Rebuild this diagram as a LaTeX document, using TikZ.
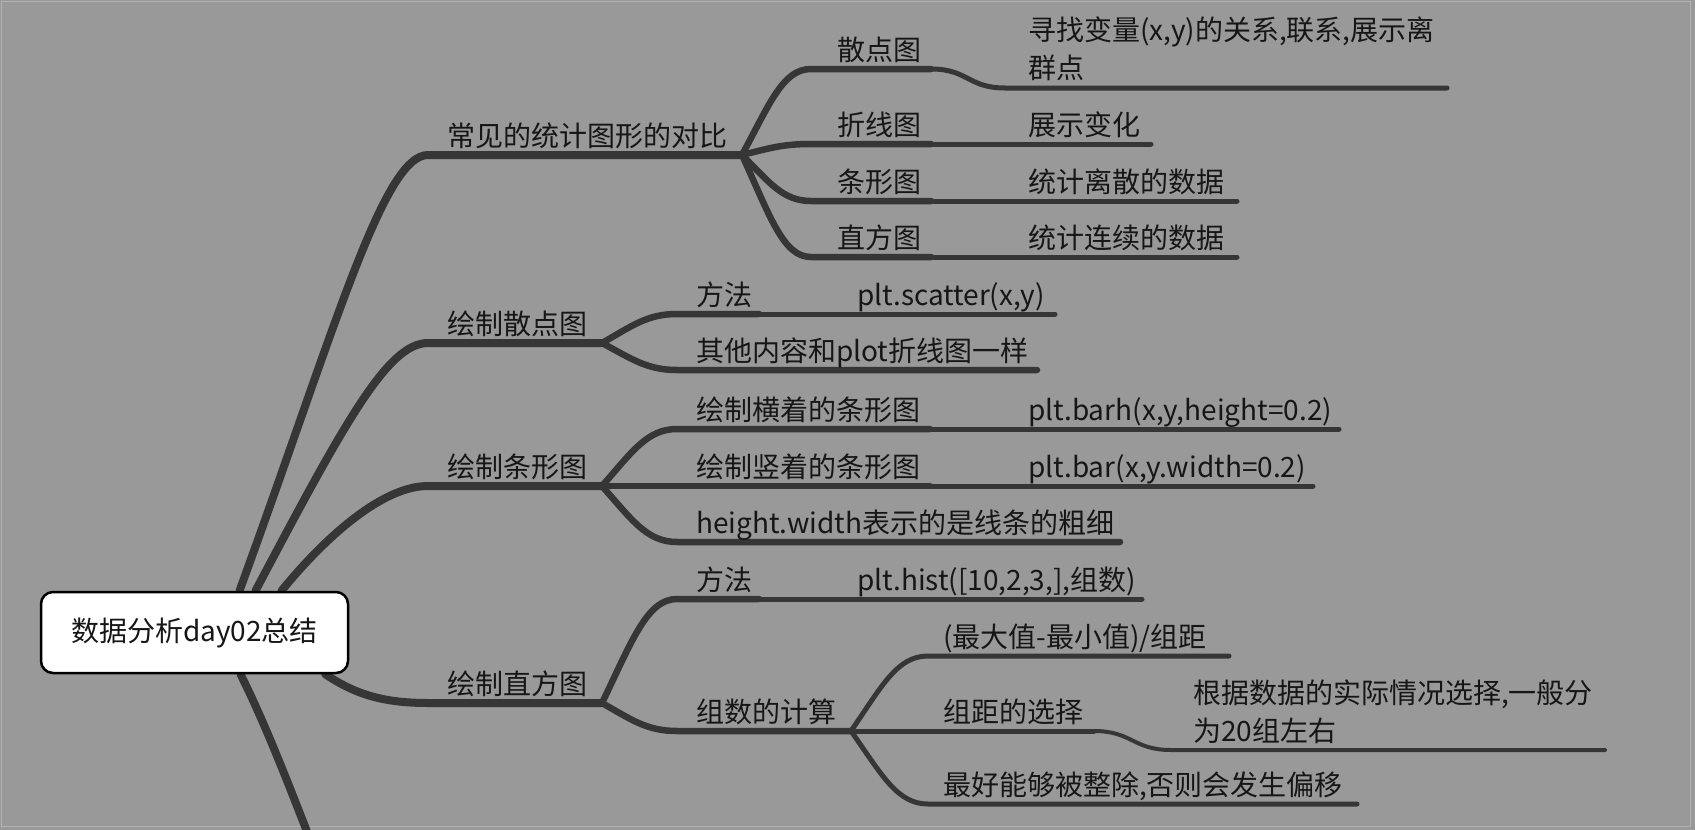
\documentclass[tikz,border=0pt]{standalone}
\usepackage{fontspec}
\setmainfont{Noto Sans CJK SC}
\definecolor{paper}{HTML}{999999}
\definecolor{wire}{HTML}{363636}
\definecolor{ink}{HTML}{161616}
\pgfdeclarelayer{wires}
\pgfsetlayers{wires,main}
\tikzset{
  rootbox/.style={draw=black, fill=white, line width=2.5pt, rounded corners=12pt,
    minimum width=307pt, minimum height=81pt, text=ink, font=\fontsize{28}{34}\selectfont},
  topic/.style={anchor=base west, inner sep=0pt, align=left, text=ink,
    font=\fontsize{28}{38}\selectfont},
  trunk/.style={draw=wire, line width=8pt, line cap=round},
  limb/.style={draw=wire, line width=6.5pt, line cap=round},
  twig/.style={draw=wire, line width=5pt, line cap=round},
  leaf/.style={draw=wire, line width=4pt, line cap=round}
}
\begin{document}
\begin{tikzpicture}[x=1pt,y=-1pt]
\useasboundingbox (0,0) rectangle (1695,830);
\begin{pgfonlayer}{wires}
\fill[paper] (0,0) rectangle (1695,830);
\draw[white!25!paper, line width=1pt] (1.5,1.5) rectangle (1690,826);
\end{pgfonlayer}

\node[rootbox] (root) at (194.5,632.5) {数据分析day02总结};

% first level
\coordinate (A0) at (428,155); \coordinate (A1) at (742,155);
\coordinate (B0) at (428,343); \coordinate (B1) at (602,343);
\coordinate (C0) at (428,486); \coordinate (C1) at (602,486);
\coordinate (D0) at (428,703); \coordinate (D1) at (602,703);
\coordinate (E0) at (428,1040);

\node[topic] (tA) at (447,146) {常见的统计图形的对比};
\node[topic] (tB) at (447,334) {绘制散点图};
\node[topic] (tC) at (447,477) {绘制条形图};
\node[topic] (tD) at (447,694) {绘制直方图};

% charts compared
\coordinate (a1) at (811,69);  \coordinate (a1x) at (931,69);
\coordinate (a1y) at (1005,88); \coordinate (a1z) at (1447,88);
\coordinate (a2) at (811,144); \coordinate (a2x) at (931,144); \coordinate (a2z) at (1151,144);
\coordinate (a3) at (811,201); \coordinate (a3x) at (931,201); \coordinate (a3z) at (1237,201);
\coordinate (a4) at (811,257); \coordinate (a4x) at (931,257); \coordinate (a4z) at (1237,257);

\node[topic] (ta1) at (837,60) {散点图};
\node[topic] (ta2) at (837,135) {折线图};
\node[topic] (ta3) at (837,192) {条形图};
\node[topic] (ta4) at (837,248) {直方图};
\node[topic] (ua1) at (1028,78) {寻找变量(x,y)的关系,联系,展示离\\群点};
\node[topic] (ua2) at (1028,135) {展示变化};
\node[topic] (ua3) at (1028,192) {统计离散的数据};
\node[topic] (ua4) at (1028,248) {统计连续的数据};

% scatter
\coordinate (b1) at (677,314); \coordinate (b1x) at (759,314); \coordinate (b1z) at (1055,314);
\coordinate (b2) at (677,370); \coordinate (b2z) at (1037,370);
\node[topic] (tb1) at (696,305) {方法};
\node[topic] (tb2) at (696,361) {其他内容和plot折线图一样};
\node[topic] (ub1) at (857,305) {plt.scatter(x,y)};

% bar
\coordinate (c1) at (677,429); \coordinate (c1x) at (930,429); \coordinate (c1z) at (1339,429);
\coordinate (c2) at (677,486); \coordinate (c2x) at (930,486); \coordinate (c2z) at (1313,486);
\coordinate (c3) at (677,542); \coordinate (c3z) at (1120,542);
\node[topic] (tc1) at (696,420) {绘制横着的条形图};
\node[topic] (tc2) at (696,477) {绘制竖着的条形图};
\node[topic] (tc3) at (696,533) {height.width表示的是线条的粗细};
\node[topic] (uc1) at (1028,420) {plt.barh(x,y,height=0.2)};
\node[topic] (uc2) at (1028,477) {plt.bar(x,y.width=0.2)};

% histogram
\coordinate (d1) at (677,599); \coordinate (d1x) at (759,599); \coordinate (d1z) at (1142,599);
\coordinate (d2) at (677,731); \coordinate (d2x) at (851,731);
\coordinate (e1) at (928,656); \coordinate (e1z) at (1229,656);
\coordinate (e2) at (928,731); \coordinate (e2x) at (1094,731);
\coordinate (e2y) at (1171,750); \coordinate (e2z) at (1605,750);
\coordinate (e3) at (928,804); \coordinate (e3z) at (1357,804);
\node[topic] (td1) at (696,590) {方法};
\node[topic] (td2) at (696,722) {组数的计算};
\node[topic] (ud1) at (857,590) {plt.hist([10,2,3,],组数)};
\node[topic] (te1) at (943,647) {(最大值-最小值)/组距};
\node[topic] (te2) at (943,722) {组距的选择};
\node[topic] (te3) at (943,795) {最好能够被整除,否则会发生偏移};
\node[topic] (ue2) at (1193,741) {根据数据的实际情况选择,一般分\\为20组左右};

\begin{pgfonlayer}{wires}
\draw[trunk] ([xshift=45pt]root.north) .. controls +(95,-260) and +(-45,0) .. (A0) -- (A1);
\draw[trunk] ([xshift=61pt]root.north) .. controls +(90,-170) and +(-40,0) .. (B0) -- (B1);
\draw[trunk] ([xshift=87pt]root.north) .. controls +(45,-55) and +(-45,0) .. (C0) -- (C1);
\draw[trunk] ([xshift=-24pt]root.south east) .. controls +(30,20) and +(-45,0) .. (D0) -- (D1);
\draw[trunk] ([xshift=46pt]root.south) .. controls +(70,140) and +(-60,0) .. (E0);

\draw[limb] (A1) .. controls +(28,-52) and +(-28,0) .. (a1) -- (a1x);
\draw[limb] (A1) .. controls +(28,-7) and +(-28,0) .. (a2) -- (a2x);
\draw[limb] (A1) .. controls +(28,28) and +(-28,0) .. (a3) -- (a3x);
\draw[limb] (A1) .. controls +(28,61) and +(-28,0) .. (a4) -- (a4x);
\draw[twig] (a1x) .. controls +(37,0) and +(-37,0) .. (a1y) -- (a1z);
\draw[twig] (a2x) -- (a2z);
\draw[twig] (a3x) -- (a3z);
\draw[twig] (a4x) -- (a4z);

\draw[limb] (B1) .. controls +(30,-17) and +(-30,0) .. (b1) -- (b1x);
\draw[limb] (B1) .. controls +(30,16) and +(-30,0) .. (b2) -- (b2z);
\draw[twig] (b1x) -- (b1z);

\draw[limb] (C1) .. controls +(30,-34) and +(-30,0) .. (c1) -- (c1x);
\draw[limb] (C1) -- (c2) -- (c2x);
\draw[limb] (C1) .. controls +(30,34) and +(-30,0) .. (c3) -- (c3z);
\draw[twig] (c1x) -- (c1z);
\draw[twig] (c2x) -- (c2z);

\draw[limb] (D1) .. controls +(30,-62) and +(-30,0) .. (d1) -- (d1x);
\draw[limb] (D1) .. controls +(30,17) and +(-30,0) .. (d2) -- (d2x);
\draw[twig] (d1x) -- (d1z);
\draw[twig] (d2x) .. controls +(31,-45) and +(-31,0) .. (e1) -- (e1z);
\draw[twig] (d2x) -- (e2) -- (e2x);
\draw[twig] (d2x) .. controls +(31,44) and +(-31,0) .. (e3) -- (e3z);
\draw[leaf] (e2x) .. controls +(38,0) and +(-38,0) .. (e2y) -- (e2z);
\end{pgfonlayer}
\end{tikzpicture}
\end{document}
